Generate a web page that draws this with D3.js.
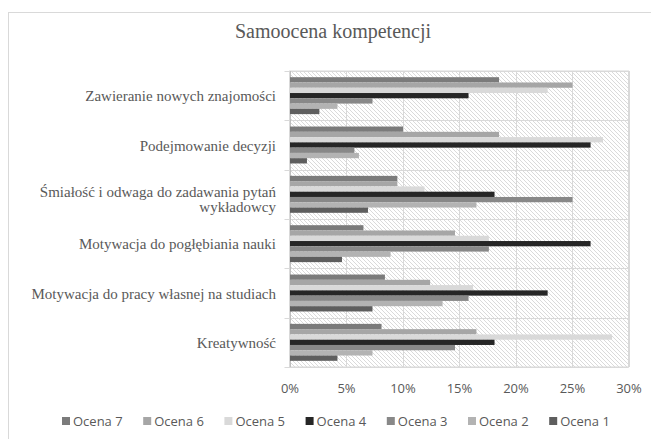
<!DOCTYPE html>
<html>
<head>
<meta charset="utf-8">
<script src="https://cdn.jsdelivr.net/npm/d3@7"></script>
<style>
  body { margin: 0; background: #fff; }
  svg { display: block; }
</style>
</head>
<body>
<div id="chart"></div>
<script>
// Category labels, top to bottom (lines split as in the picture)
const categories = [
  "Zawieranie nowych znajomości",
  "Podejmowanie decyzji",
  "Śmiałość i odwaga do zadawania pytań wykładowcy",
  "Motywacja do pogłębiania nauki",
  "Motywacja do pracy własnej na studiach",
  "Kreatywność"
];
const categoryLines = [
  ["Zawieranie nowych znajomości"],
  ["Podejmowanie decyzji"],
  ["Śmiałość i odwaga do zadawania pytań", "wykładowcy"],
  ["Motywacja do pogłębiania nauki"],
  ["Motywacja do pracy własnej na studiach"],
  ["Kreatywność"]
];

// Series names in legend order (also top-to-bottom order inside a group)
const seriesNames = ["Ocena 7", "Ocena 6", "Ocena 5", "Ocena 4", "Ocena 3", "Ocena 2", "Ocena 1"];

// Percent values per series, same order as categories
const ocena7 = [18.5, 10.0, 9.5, 6.5, 8.4, 8.1];
const ocena6 = [25.0, 18.5, 9.5, 14.6, 12.4, 16.5];
const ocena5 = [22.8, 27.7, 11.9, 17.6, 16.2, 28.5];
const ocena4 = [15.8, 26.6, 18.1, 26.6, 22.8, 18.1];
const ocena3 = [7.3, 5.7, 25.0, 17.6, 15.8, 14.6];
const ocena2 = [4.2, 6.1, 16.5, 8.9, 13.5, 7.3];
const ocena1 = [2.6, 1.5, 6.9, 4.6, 7.3, 4.2];

const tickValues = [0, 0.05, 0.10, 0.15, 0.20, 0.25, 0.30];

const seriesValues = [ocena7, ocena6, ocena5, ocena4, ocena3, ocena2, ocena1];
const seriesColors = ["#7b7b7b", "#a6a6a6", "#d9d9d9", "#262626", "#888888", "#b3b3b3", "#5e5e5e"];

// Flatten into one row per bar
const bars = [];
seriesNames.forEach((s, i) => {
  categories.forEach((c, j) => {
    bars.push({ series: s, category: c, value: seriesValues[i][j] / 100, color: seriesColors[i] });
  });
});

const width = 651, height = 439;
const plot = { left: 289.5, right: 628.5, top: 71, bottom: 367 };

const svg = d3.select("#chart").append("svg")
  .attr("width", width)
  .attr("height", height);

// Hatched plot background
const defs = svg.append("defs");
const pattern = defs.append("pattern")
  .attr("id", "hatch")
  .attr("patternUnits", "userSpaceOnUse")
  .attr("width", 4)
  .attr("height", 4);
pattern.append("rect").attr("width", 4).attr("height", 4).attr("fill", "#fff");
pattern.append("path")
  .attr("d", "M0,0 L4,4 M-1,3 L1,5 M3,-1 L5,1")
  .attr("stroke", "#d6d6d6")
  .attr("stroke-width", 0.9);

// Outer chart border (runs off the right/bottom edge like the picture)
svg.append("rect")
  .attr("x", 8.5).attr("y", 12.5)
  .attr("width", 700).attr("height", 500)
  .attr("fill", "none")
  .attr("stroke", "#d9d9d9");

// Title
svg.append("text")
  .attr("x", 333)
  .attr("y", 38)
  .attr("text-anchor", "middle")
  .attr("font-family", "'Liberation Serif', 'Times New Roman', serif")
  .attr("font-size", 20)
  .attr("fill", "#595959")
  .text("Samoocena kompetencji");

// Scales
const x = d3.scaleLinear()
  .domain([0, 0.30])
  .range([plot.left, plot.right]);

const y = d3.scaleBand()
  .domain(categories)
  .range([plot.top, plot.bottom])
  .padding(0);

const gap = 6.2;
const ySeries = d3.scaleBand()
  .domain(seriesNames)
  .range([gap, y.bandwidth() - gap])
  .padding(0);

// Plot area background
svg.append("rect")
  .attr("x", plot.left).attr("y", plot.top)
  .attr("width", plot.right - plot.left)
  .attr("height", plot.bottom - plot.top)
  .attr("fill", "url(#hatch)")
  .attr("stroke", "#d9d9d9");

// Vertical gridlines
svg.append("g")
  .selectAll("line")
  .data(tickValues.slice(1))
  .join("line")
  .attr("x1", d => Math.round(x(d)) + 0.5)
  .attr("x2", d => Math.round(x(d)) + 0.5)
  .attr("y1", plot.top)
  .attr("y2", plot.bottom)
  .attr("stroke", "#d9d9d9");

// Category dividers + left tick marks
const boundaries = categories.map(c => y(c)).concat([plot.bottom]);
svg.append("g")
  .selectAll("line")
  .data(boundaries)
  .join("line")
  .attr("x1", plot.left - 5)
  .attr("x2", plot.right)
  .attr("y1", d => Math.round(d) + 0.5)
  .attr("y2", d => Math.round(d) + 0.5)
  .attr("stroke", "#d9d9d9");

// Left axis line
svg.append("line")
  .attr("x1", Math.round(plot.left) + 0.5)
  .attr("x2", Math.round(plot.left) + 0.5)
  .attr("y1", plot.top)
  .attr("y2", plot.bottom)
  .attr("stroke", "#bfbfbf");

// Bars
svg.append("g")
  .selectAll("rect")
  .data(bars)
  .join("rect")
  .attr("x", x(0) + 0.5)
  .attr("y", d => y(d.category) + ySeries(d.series))
  .attr("width", d => x(d.value) - x(0))
  .attr("height", ySeries.bandwidth())
  .attr("fill", d => d.color);

// Category labels
const labelGroup = svg.append("g")
  .attr("font-family", "'Liberation Serif', 'Times New Roman', serif")
  .attr("font-size", 15)
  .attr("fill", "#595959")
  .attr("text-anchor", "end");

categories.forEach((c, i) => {
  const lines = categoryLines[i];
  const cy = y(c) + y.bandwidth() / 2;
  const lh = 15;
  const t = labelGroup.append("text")
    .attr("x", 276)
    .attr("y", cy + 1 - (lines.length - 1) * 3.5);
  lines.forEach((l, k) => {
    t.append("tspan")
      .attr("x", 276)
      .attr("dy", k === 0 ? "0.32em" : lh)
      .text(l);
  });
});

// X axis labels
const xAxis = svg.append("g")
  .attr("transform", `translate(0,${plot.bottom})`)
  .call(d3.axisBottom(x).tickValues(tickValues).tickFormat(d3.format(".0%")).tickSize(0).tickPadding(0));
xAxis.select(".domain").remove();
xAxis.selectAll("text")
  .attr("y", 26)
  .attr("dy", 0)
  .attr("font-family", "'Open Sans', sans-serif")
  .attr("font-size", 13)
  .attr("fill", "#595959");

// Legend
const legend = svg.append("g")
  .attr("font-family", "'Open Sans', sans-serif")
  .attr("font-size", 13)
  .attr("fill", "#595959");

const legendItems = legend.selectAll("g")
  .data(seriesNames)
  .join("g")
  .attr("transform", (d, i) => `translate(${62 + i * 81.2},0)`);

legendItems.append("rect")
  .attr("x", 0).attr("y", 417)
  .attr("width", 8).attr("height", 8)
  .attr("fill", (d, i) => seriesColors[i]);

legendItems.append("text")
  .attr("x", 11)
  .attr("y", 425.5)
  .text(d => d);
</script>
</body>
</html>
